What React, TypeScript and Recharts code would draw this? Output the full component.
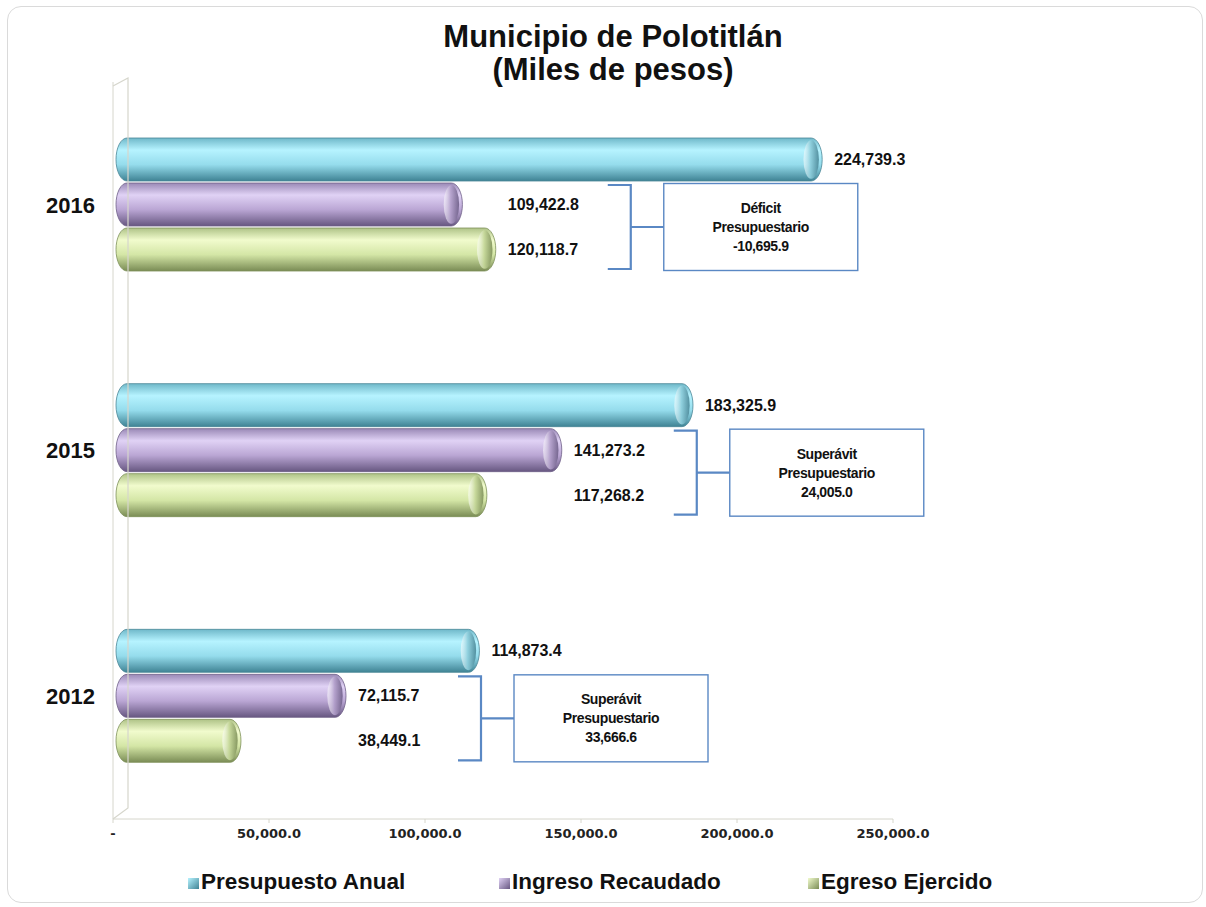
import React from 'react';
import { BarChart, Bar, XAxis, YAxis, LabelList } from 'recharts';

// Valores en miles de pesos
const years = ['2016', '2015', '2012'];
const presupuesto = [224739.3, 183325.9, 114873.4];
const ingreso = [109422.8, 141273.2, 72115.7];
const egreso = [120118.7, 117268.2, 38449.1];
const xTicks = [0, 50000, 100000, 150000, 200000, 250000];
const seriesNames = ['Presupuesto Anual', 'Ingreso Recaudado', 'Egreso Ejercido'];

const rows = years.map((year, i) => ({
  year,
  presupuesto: presupuesto[i],
  ingreso: ingreso[i],
  egreso: egreso[i],
}));

const fmt = (v: number) =>
  v.toLocaleString('en-US', { minimumFractionDigits: 1, maximumFractionDigits: 1 });

const FONT = '"Liberation Sans", Arial, sans-serif';
const BAR_GAP = 2;
const LABEL_GAP = 20;

const palette = {
  cyan: { stops: ['#6fb8c9', '#b6f3ff', '#95dcec', '#3f8394'], cap: '#8fcfdd', edge: '#4a8797' },
  purple: { stops: ['#9a89b6', '#e0d2f5', '#baa6d4', '#675781'], cap: '#b4a1cc', edge: '#6e5f88' },
  green: { stops: ['#afc387', '#f1fbcd', '#d4e6a6', '#7a8c55'], cap: '#c6d89a', edge: '#7e9059' },
};

const Gradients = () => (
  <defs>
    {Object.entries(palette).map(([k, p]) => (
      <linearGradient key={k} id={`g-${k}`} x1="0" y1="0" x2="0" y2="1">
        <stop offset="0%" stopColor={p.stops[0]} />
        <stop offset="28%" stopColor={p.stops[1]} />
        <stop offset="62%" stopColor={p.stops[2]} />
        <stop offset="100%" stopColor={p.stops[3]} />
      </linearGradient>
    ))}
    {Object.entries(palette).map(([k, p]) => (
      <linearGradient key={`c${k}`} id={`cap-${k}`} x1="0" y1="0" x2="1" y2="0">
        <stop offset="0%" stopColor="#ffffff" stopOpacity={0.55} />
        <stop offset="45%" stopColor={p.cap} stopOpacity={0.9} />
        <stop offset="100%" stopColor={p.edge} stopOpacity={0.9} />
      </linearGradient>
    ))}
  </defs>
);

const Cylinder = (props: any) => {
  const { x, y, width, height, tone } = props;
  if (width == null || width <= 0) return null;
  const p = (palette as any)[tone];
  const ry = height / 2;
  const rx = 11;
  const w = width + 8;
  return (
    <g>
      <rect x={x + 3} y={y} width={w - 3} height={height} rx={rx} ry={ry}
        fill={`url(#g-${tone})`} stroke={p.edge} strokeWidth={0.8} />
      <ellipse cx={x + w - rx} cy={y + ry} rx={rx * 0.7} ry={ry * 0.9}
        fill={`url(#cap-${tone})`} />
    </g>
  );
};

const ValueLabel = (props: any) => {
  const { x, y, width, height, value } = props;
  return (
    <text x={x + width + LABEL_GAP} y={y + height / 2} dominantBaseline="central"
      fontFamily={FONT} fontWeight="bold" fontSize={16} fill="#111">
      {fmt(value)}
    </text>
  );
};

// etiqueta alineada con la barra más larga del par ingreso / egreso
const PairLabel = (props: any) => {
  const { x, y, width, height, value, index } = props;
  const r = rows[index];
  const anchor = Math.max(r.ingreso, r.egreso);
  const lx = x + (anchor * width) / value + LABEL_GAP;
  return (
    <text x={lx} y={y + height / 2} dominantBaseline="central"
      fontFamily={FONT} fontWeight="bold" fontSize={16} fill="#111">
      {fmt(value)}
    </text>
  );
};

// corchete y cuadro de saldo, dibujado desde la barra de egreso
const BalanceNote = (props: any) => {
  const { x, y, width, height, value, index } = props;
  const r = rows[index];
  const anchor = Math.max(r.ingreso, r.egreso);
  const lx = x + (anchor * width) / value + LABEL_GAP;
  const saldo = Math.round((r.ingreso - r.egreso) * 10) / 10;
  const top = y - height - BAR_GAP + 2;
  const bottom = y + height - 2;
  const mid = (top + bottom) / 2;
  const bx0 = lx + 100;
  const bx = bx0 + 23;
  const boxX = bx + 33;
  const boxW = 194;
  const boxH = 87;
  const blue = '#5a88c4';
  const lines = [saldo < 0 ? 'Déficit' : 'Superávit', 'Presupuestario', fmt(saldo)];
  return (
    <g>
      <path d={`M${bx0},${top} H${bx} V${bottom} H${bx0} M${bx},${mid} H${boxX}`}
        fill="none" stroke={blue} strokeWidth={2.2} />
      <rect x={boxX} y={mid - boxH / 2} width={boxW} height={boxH}
        fill="#fff" stroke={blue} strokeWidth={1.4} />
      {lines.map((t, i) => (
        <text key={t} x={boxX + boxW / 2} y={mid + (i - 1) * 19} textAnchor="middle"
          dominantBaseline="central" fontFamily={FONT} fontWeight="bold" fontSize={14}
          letterSpacing={-0.4} fill="#111">
          {t}
        </text>
      ))}
    </g>
  );
};

const legendBg = [
  'linear-gradient(135deg, #b6f3ff, #3f8394)',
  'linear-gradient(135deg, #e0d2f5, #675781)',
  'linear-gradient(135deg, #f1fbcd, #7a8c55)',
];
const legendLeft = [188, 499, 808];

export default function App() {
  return (
    <div style={{ position: 'fixed', left: 0, top: 0, width: 1206, height: 907, background: '#fff' }}>
      <div style={{
        position: 'absolute', left: 7, top: 6, width: 1196, height: 897,
        border: '1px solid #dadada', borderRadius: 14, boxSizing: 'border-box',
      }} />
      <div style={{
        position: 'absolute', left: 0, top: 20, width: 1226, textAlign: 'center',
        fontFamily: FONT, fontWeight: 'bold', fontSize: 31, lineHeight: '33px', color: '#111',
      }}>
        <div>Municipio de Polotitlán</div>
        <div>(Miles de pesos)</div>
      </div>
      <div style={{ position: 'absolute', left: 0, top: 0 }}>
        <BarChart layout="vertical" width={1206} height={907} data={rows}
          margin={{ top: 82, right: 313, bottom: 58, left: 0 }} barSize={43} barGap={BAR_GAP}>
          <Gradients />
          <XAxis type="number" domain={[0, 250000]} ticks={xTicks} height={30}
            axisLine={{ stroke: '#d6d6cc' }} tickLine={{ stroke: '#d6d6cc' }} tickSize={4} tickMargin={6}
            tickFormatter={(v: number) => (v === 0 ? '-' : fmt(v))}
            tick={{ fontFamily: '"DejaVu Sans", Verdana, sans-serif', fontWeight: 'bold', fontSize: 13, fill: '#222' }} />
          <YAxis type="category" dataKey="year" width={113}
            axisLine={{ stroke: '#d6d6cc' }} tickLine={false} tickMargin={12}
            tick={{ fontFamily: FONT, fontWeight: 'bold', fontSize: 22, fill: '#111' }} />
          <Bar dataKey="presupuesto" name={seriesNames[0]} fill="#8fd8e8" isAnimationActive={false}
            shape={(p: any) => <Cylinder {...p} tone="cyan" />}>
            <LabelList dataKey="presupuesto" content={<ValueLabel />} />
          </Bar>
          <Bar dataKey="ingreso" name={seriesNames[1]} fill="#baa6d4" isAnimationActive={false}
            shape={(p: any) => <Cylinder {...p} tone="purple" />}>
            <LabelList dataKey="ingreso" content={<PairLabel />} />
          </Bar>
          <Bar dataKey="egreso" name={seriesNames[2]} fill="#d4e6a6" isAnimationActive={false}
            shape={(p: any) => <Cylinder {...p} tone="green" />}>
            <LabelList dataKey="egreso" content={<PairLabel />} />
            <LabelList dataKey="egreso" content={<BalanceNote />} />
          </Bar>
        </BarChart>
      </div>
      {/* pared lateral del gráfico 3D */}
      <svg width={1206} height={907} style={{ position: 'absolute', left: 0, top: 0, pointerEvents: 'none' }}>
        <polyline points="113,86 128,78 128,808 113,819" fill="none" stroke="#d6d6cc" strokeWidth={1.2} />
      </svg>
      {seriesNames.map((n, i) => (
        <div key={n} style={{
          position: 'absolute', left: legendLeft[i], top: 868, display: 'flex', alignItems: 'center',
          fontFamily: FONT, fontWeight: 'bold', fontSize: 22.5, color: '#111', lineHeight: '28px',
        }}>
          <span style={{ width: 11, height: 11, background: legendBg[i], marginRight: 2, marginTop: 2 }} />
          <span>{n}</span>
        </div>
      ))}
    </div>
  );
}
